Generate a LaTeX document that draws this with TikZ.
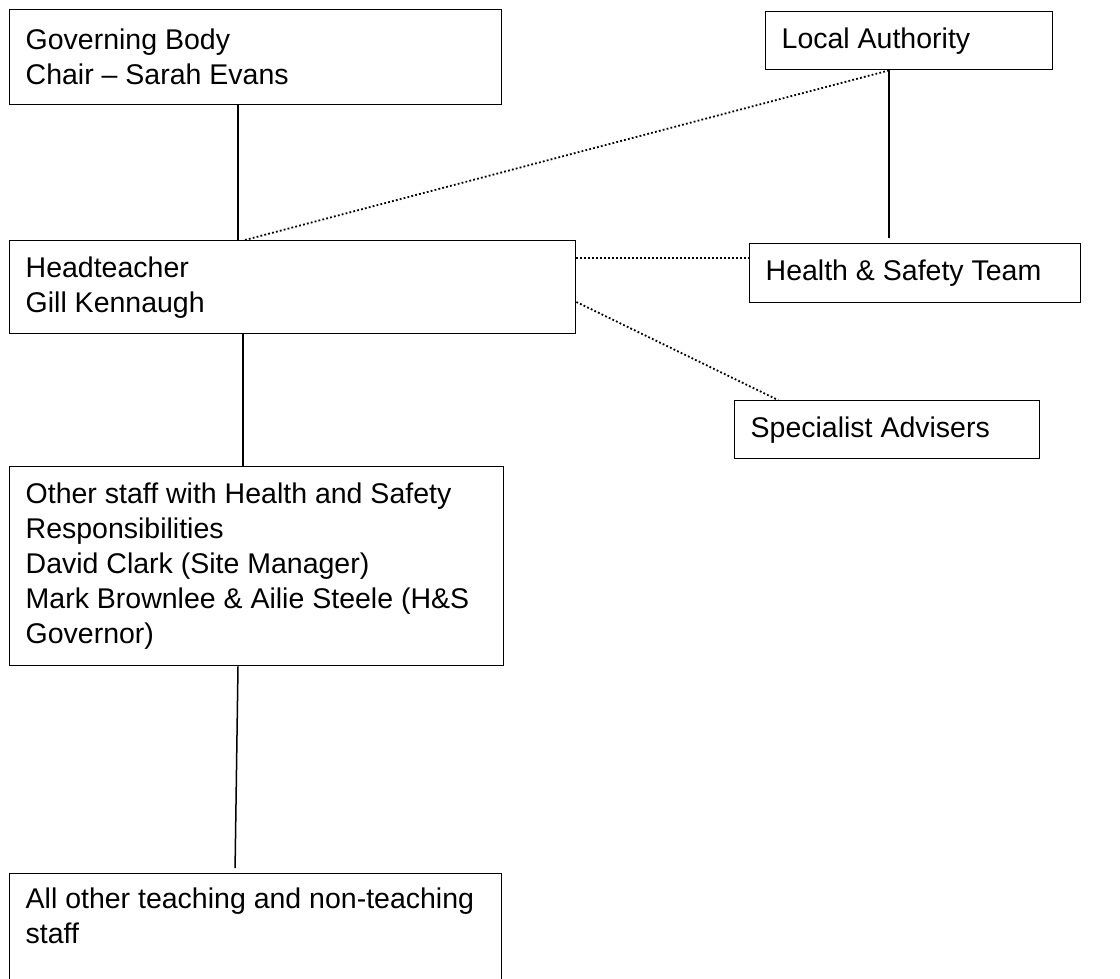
\documentclass[tikz,border=0pt]{standalone}
\usepackage{fontspec}
\setmainfont{Liberation Sans}
\begin{document}
\begin{tikzpicture}[x=1pt,y=-1pt,
  box/.style={draw, line width=1.4pt, anchor=north west, align=flush left,
    inner xsep=16pt, inner ysep=0pt, font=\fontsize{28.5}{35}\selectfont},
  solidlink/.style={line width=1.5pt},
  dotlink/.style={line width=1.8pt, dash pattern=on 1.8pt off 2.2pt}]
\useasboundingbox (0,0) rectangle (1120,979);
\node[box, text width=460pt, minimum height=95pt] (GB) at (9,9) {Governing Body\\Chair -- Sarah Evans};
\node[box, text width=534pt, minimum height=93pt] (HT) at (9,240) {Headteacher\\Gill Kennaugh};
\node[box, text width=255pt, minimum height=58pt] (LA) at (765,11) {Local Authority};
\node[box, text width=299pt, minimum height=59pt] (HS) at (749,243) {Health \& Safety Team};
\node[box, text width=273pt, minimum height=58pt] (SA) at (734,400) {Specialist Advisers};
\node[box, text width=462pt, minimum height=199pt] (OS) at (9,466) {Other staff with Health and Safety\\Responsibilities\\David Clark (Site Manager)\\\mbox{Mark Brownlee \& Ailie Steele (H\&S}\\Governor)};
\node[box, text width=460pt, minimum height=160pt] (AO) at (9,873) {\rule{0pt}{35pt}All other teaching and non-teaching\\staff\\[60pt]\mbox{}};
\coordinate (gx) at (238,0);
\coordinate (dx) at (245,0);
\coordinate (lx) at (889,0);
\coordinate (hy) at (0,258);
\coordinate (sy) at (0,302);
\coordinate (sx) at (778,0);
\coordinate (tx) at (243,0);
\coordinate (ox) at (238,0);
\coordinate (oy) at (235,0);
\draw[solidlink] (GB.south -| gx) -- (HT.north -| gx);
\draw[solidlink, shorten >=5pt] (LA.south -| lx) -- (HS.north -| lx);
\draw[dotlink] (HT.north -| dx) -- (LA.south -| lx);
\draw[dotlink] (HT.east |- hy) -- (HS.west |- hy);
\draw[dotlink] (HT.east |- sy) -- (SA.north -| sx);
\draw[solidlink] (HT.south -| tx) -- (OS.north -| tx);
\draw[solidlink, shorten >=5pt] (OS.south -| ox) -- (AO.north -| oy);
\end{tikzpicture}
\end{document}
